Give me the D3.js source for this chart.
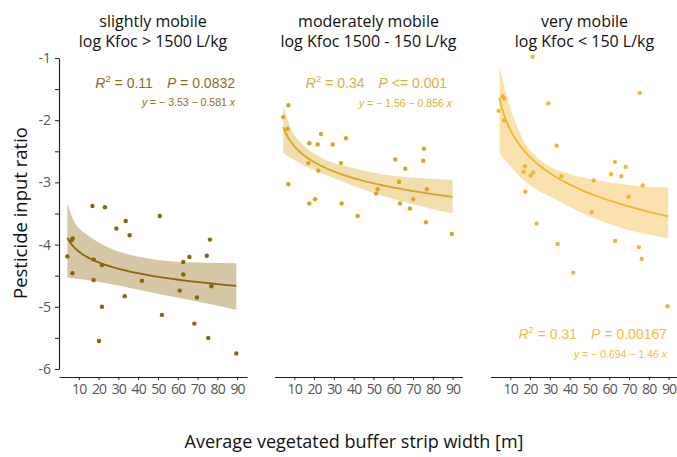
<!DOCTYPE html>
<html><head><meta charset="utf-8">
<script src="https://cdn.jsdelivr.net/npm/d3@7"></script>
<style>
body{margin:0;background:#fff;}
svg{display:block;}
</style></head>
<body><svg id="c" width="677" height="457"></svg>
<script>
// ---------- data ----------
const titles = ["slightly mobile", "moderately mobile", "very mobile"];
const subtitles = ["log Kfoc > 1500 L/kg", "log Kfoc 1500 - 150 L/kg", "log Kfoc < 150 L/kg"];
const r2Values = ["0.11", "0.34", "0.31"];
const pValues = ["= 0.0832", "<= 0.001", "= 0.00167"];
const intercepts = [-3.53, -1.56, -0.694];
const slopes = [-0.581, -0.856, -1.46];
const xTicks = [10, 20, 30, 40, 50, 60, 70, 80, 90];
const yTicks = [-1, -2, -3, -4, -5, -6];
const yMinorTicks = [-1.5, -2.5, -3.5, -4.5, -5.5];

const p1X = [4.2, 6.3, 6.9, 6.8, 16.9, 17.5, 17.5, 20.2, 21.7, 21.7, 23.2, 29.0, 33.2, 33.7, 35.7, 41.9, 50.9, 52.0, 61.0, 62.8, 62.8, 65.9, 68.4, 69.7, 74.7, 75.4, 76.3, 77.0, 89.6];
const p1Y = [-4.19, -3.93, -3.90, -4.46, -3.38, -4.24, -4.57, -5.55, -4.33, -5.00, -3.40, -3.74, -4.83, -3.62, -3.85, -4.58, -3.54, -5.13, -4.74, -4.28, -4.48, -4.20, -5.27, -4.85, -4.18, -5.50, -3.92, -4.67, -5.75];

const p2X = [7.0, 4.4, 6.5, 7.0, 17.6, 21.8, 23.5, 17.1, 22.1, 17.6, 20.5, 29.4, 33.6, 33.9, 36.1, 42.0, 51.3, 52.1, 61.0, 63.0, 63.4, 66.1, 68.4, 70.1, 75.2, 75.5, 76.5, 77.0, 89.6];
const p2Y = [-1.76, -1.95, -2.14, -3.03, -2.37, -2.39, -2.22, -2.69, -2.81, -3.34, -3.27, -2.39, -2.69, -3.34, -2.29, -3.54, -3.18, -3.11, -2.63, -2.99, -3.34, -2.78, -3.42, -3.27, -2.65, -2.46, -3.64, -3.11, -3.83];

const p3X = [21.3, 6.2, 6.8, 4.1, 6.8, 29.2, 75.4, 33.4, 17.4, 16.8, 20.3, 21.6, 17.6, 35.8, 52.1, 62.9, 68.3, 60.9, 66.1, 76.9, 69.8, 51.1, 23.3, 33.9, 63.0, 75.0, 76.4, 41.8, 89.5];
const p3Y = [-0.98, -1.62, -1.65, -1.85, -2.00, -1.73, -1.56, -2.41, -2.74, -2.83, -2.89, -2.84, -3.15, -2.90, -2.97, -2.67, -2.75, -2.87, -2.90, -3.05, -3.23, -3.48, -3.66, -3.99, -3.94, -4.04, -4.23, -4.45, -4.99];

// confidence band edges
const band1X = [4.2, 7.2, 15.5, 23.9, 40.8, 57.6, 73.5, 89.6];
const band1Up = [-3.34, -3.60, -3.87, -4.03, -4.20, -4.27, -4.29, -4.30];
const band1LoX = [4.2, 23.9, 40.8, 57.6, 73.5, 89.6];
const band1Lo = [-4.53, -4.62, -4.73, -4.84, -4.94, -5.05];

const band2X = [4.4, 7.8, 14.5, 23.0, 39.8, 56.7, 73.5, 90.0];
const band2Up = [-1.76, -2.10, -2.40, -2.59, -2.77, -2.88, -2.93, -2.96];
const band2LoX = [4.4, 14.5, 31.4, 48.2, 65.0, 90.0];
const band2Lo = [-2.53, -2.72, -2.95, -3.15, -3.31, -3.50];

const band3X = [4.6, 9.8, 16.6, 25.0, 41.8, 58.7, 75.5, 89.8];
const band3Up = [-1.14, -1.78, -2.32, -2.64, -2.88, -2.99, -3.06, -3.08];
const band3LoX = [4.6, 16.6, 33.4, 50.3, 67.1, 89.8];
const band3Lo = [-2.53, -2.96, -3.28, -3.55, -3.74, -3.90];

const fitRange = [[4.2, 89.6], [4.4, 90.0], [4.4, 89.8]];

// ---------- styles ----------
const colors = ["#8B6508", "#D9A31F", "#F2B434"];
const bandOpacity = [0.36, 0.36, 0.4];
const textColors = ["#8e6e1c", "#ddae35", "#f3bc40"];
const fontAxis = "'Open Sans', 'Noto Sans', sans-serif";
const fontStat = "'Liberation Sans', Arial, sans-serif";

const svg = d3.select("#c");
const y = d3.scaleLinear().domain([-6, -1]).range([369, 58]);
const panelX0 = [59, 274.5, 490.5];
const panelW = 188;

const pts = [[p1X, p1Y], [p2X, p2Y], [p3X, p3Y]];
const bands = [[band1X, band1Up, band1LoX, band1Lo], [band2X, band2Up, band2LoX, band2Lo], [band3X, band3Up, band3LoX, band3Lo]];
const statPos = [
  {x1: 235, y1: 88, x2: 235, y2: 106},
  {x1: 447, y1: 88, x2: 452, y2: 107},
  {x1: 667, y1: 339, x2: 667, y2: 358}
];

// y axis
const yAxis = svg.append("g").attr("transform", "translate(59,0)")
  .call(d3.axisLeft(y).tickValues(yTicks).tickSize(4).tickSizeOuter(0).tickFormat(d => d));
yAxis.select(".domain").attr("stroke", "#222").attr("stroke-width", 1.2);
yAxis.selectAll(".tick line").attr("stroke", "#222");
yAxis.selectAll(".tick text").attr("font-family", fontAxis).attr("font-size", 14).attr("fill", "#555").attr("dx", "-1");
const yMinor = svg.append("g").attr("transform", "translate(59,0)")
  .call(d3.axisLeft(y).tickValues(yMinorTicks).tickSize(4).tickSizeOuter(0).tickFormat(""));
yMinor.select(".domain").remove();
yMinor.selectAll(".tick line").attr("stroke", "#222");

svg.append("text")
  .attr("transform", "translate(22,213) rotate(-90)")
  .attr("text-anchor", "middle").attr("dominant-baseline", "middle")
  .attr("font-family", fontAxis).attr("font-size", 18.5).attr("fill", "#111")
  .text("Pesticide input ratio");

svg.append("text")
  .attr("x", 354).attr("y", 448)
  .attr("text-anchor", "middle")
  .attr("font-family", fontAxis).attr("font-size", 18).attr("fill", "#111")
  .text("Average vegetated buffer strip width [m]");

titles.forEach((t, i) => {
  const x = d3.scaleLinear().domain([0, 95]).range([panelX0[i], panelX0[i] + panelW]);
  const g = svg.append("g");
  const col = colors[i];
  const [bx, bu, blx, bl] = bands[i];

  // band: upper edge forward, lower edge backward
  const upPts = bx.map((v, k) => [x(v), y(bu[k])]);
  const loPts = blx.map((v, k) => [x(v), y(bl[k])]);
  const upPath = d3.line().curve(d3.curveMonotoneX)(upPts);
  const loPathStr = d3.line().curve(d3.curveMonotoneX)(loPts.slice().reverse());
  g.append("path")
    .attr("d", upPath + "L" + loPathStr.slice(1) + "Z")
    .attr("fill", col).attr("fill-opacity", bandOpacity[i]).attr("stroke", "none");

  // fitted curve y = a + b*log10(x)
  const [fx0, fx1] = fitRange[i];
  const fitXs = d3.range(0, 61).map(k => fx0 * Math.pow(fx1 / fx0, k / 60));
  g.append("path")
    .attr("d", d3.line().x(d => x(d)).y(d => y(intercepts[i] + slopes[i] * Math.log10(d)))(fitXs))
    .attr("fill", "none").attr("stroke", col).attr("stroke-width", 1.8);

  // points
  const [px, py] = pts[i];
  g.selectAll("circle").data(px.map((v, k) => [v, py[k]])).join("circle")
    .attr("cx", d => x(d[0])).attr("cy", d => y(d[1])).attr("r", 2.2).attr("fill", col);

  // x axis
  const xa = svg.append("g").attr("transform", "translate(0,377)")
    .call(d3.axisBottom(x).tickValues(xTicks).tickSize(3).tickSizeOuter(0));
  xa.select(".domain").attr("stroke", "#222").attr("stroke-width", 1.2);
  xa.selectAll(".tick line").attr("stroke", "#222");
  xa.selectAll(".tick text").attr("font-family", fontAxis).attr("font-size", 14)
    .attr("fill", "#555").attr("dy", "0.8em").attr("letter-spacing", "-0.8");

  // titles
  const cx = panelX0[i] + panelW / 2;
  svg.append("text").attr("x", cx).attr("y", 27).attr("text-anchor", "middle")
    .attr("font-family", fontAxis).attr("font-size", 16).attr("fill", "#111").text(t);
  svg.append("text").attr("x", cx).attr("y", 47).attr("text-anchor", "middle")
    .attr("font-family", fontAxis).attr("font-size", 16).attr("fill", "#111").text(subtitles[i]);

  // stats
  const sp = statPos[i];
  const t1 = svg.append("text").attr("x", sp.x1).attr("y", sp.y1).attr("text-anchor", "end")
    .attr("font-family", fontStat).attr("font-size", 14).attr("fill", textColors[i]);
  t1.append("tspan").attr("font-style", "italic").text("R");
  t1.append("tspan").attr("font-size", 9.5).attr("dy", -6).text("2");
  t1.append("tspan").attr("dy", 6).text(" = " + r2Values[i] + "\u2002\u2002");
  t1.append("tspan").attr("font-style", "italic").text("P");
  t1.append("tspan").text(" " + pValues[i]);

  const t2 = svg.append("text").attr("x", sp.x2).attr("y", sp.y2).attr("text-anchor", "end")
    .attr("font-family", fontStat).attr("font-size", 10.5).attr("fill", textColors[i]);
  t2.append("tspan").attr("font-style", "italic").text("y");
  t2.append("tspan").text(" = \u2212 " + Math.abs(intercepts[i]) + " \u2212 " + Math.abs(slopes[i]) + " ");
  t2.append("tspan").attr("font-style", "italic").text("x");
});
</script>
</body></html>
